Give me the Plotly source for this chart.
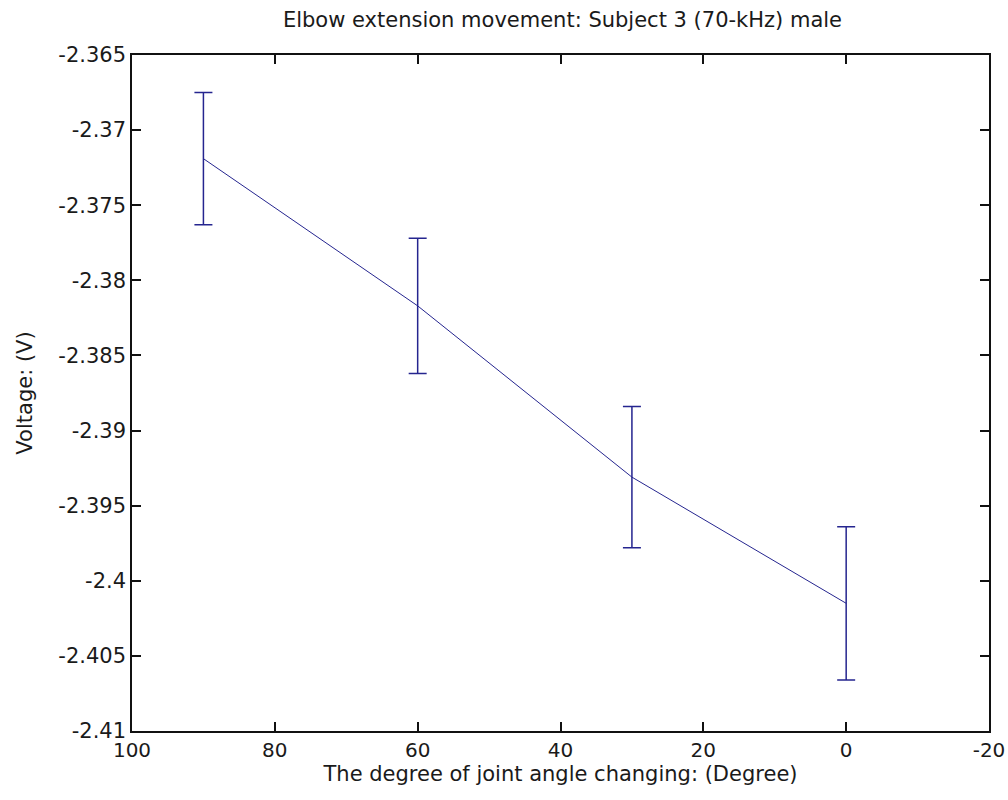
import plotly.graph_objects as go

angles = [90, 60, 30, 0]
voltage = [-2.3719, -2.3817, -2.3931, -2.4015]
errors = [0.0044, 0.0045, 0.0047, 0.0051]

title_text = "Elbow extension movement: Subject 3 (70-kHz) male"
x_title = "The degree of joint angle changing: (Degree)"
y_title = "Voltage: (V)"
y_ticks = [-2.365, -2.37, -2.375, -2.38, -2.385, -2.39, -2.395, -2.4, -2.405, -2.41]
y_labels = ["-2.365", "-2.37", "-2.375", "-2.38", "-2.385", "-2.39", "-2.395", "-2.4", "-2.405", "-2.41"]
x_ticks = [100, 80, 60, 40, 20, 0, -20]
x_labels = ["100", "80", "60", "40", "20", "0", "-20"]

line_color = "#25258f"
font = dict(family="DejaVu Sans, Arial, sans-serif", size=21, color="#1a1a1a")
xtick_font = dict(family="DejaVu Sans, Arial, sans-serif", size=20, color="#1a1a1a")

fig = go.Figure(go.Scatter(
    x=angles, y=voltage, mode="lines",
    line=dict(color=line_color, width=1),
    error_y=dict(type="data", array=errors, visible=True, color=line_color, thickness=1.5, width=9),
))

fig.update_layout(
    width=1008, height=800,
    margin=dict(l=132, r=19, t=55, b=69, autoexpand=False),
    paper_bgcolor="white", plot_bgcolor="white",
    font=font,
    showlegend=False,
    title=dict(text=title_text, x=0.558, xanchor="center", y=0.975, yanchor="middle", font=font),
)
fig.update_xaxes(
    range=[100, -20], tickvals=x_ticks, ticktext=x_labels, tickfont=xtick_font,
    showgrid=False, zeroline=False, showline=True, linecolor="#111111", linewidth=1.5,
    mirror="ticks", ticks="inside", ticklen=9, tickcolor="#111111", tickwidth=1.5,
    ticklabeloverflow="allow", automargin=False,
    title=dict(text=x_title, standoff=3, font=font),
)
fig.update_yaxes(
    range=[-2.41, -2.365], tickvals=y_ticks, ticktext=y_labels,
    showgrid=False, zeroline=False, showline=True, linecolor="#111111", linewidth=1.5,
    mirror="ticks", ticks="inside", ticklen=9, tickcolor="#111111", tickwidth=1.5,
    ticklabeloverflow="allow", automargin=False,
    title=dict(text=y_title, standoff=20, font=font),
)

fig.write_html("out.html")
